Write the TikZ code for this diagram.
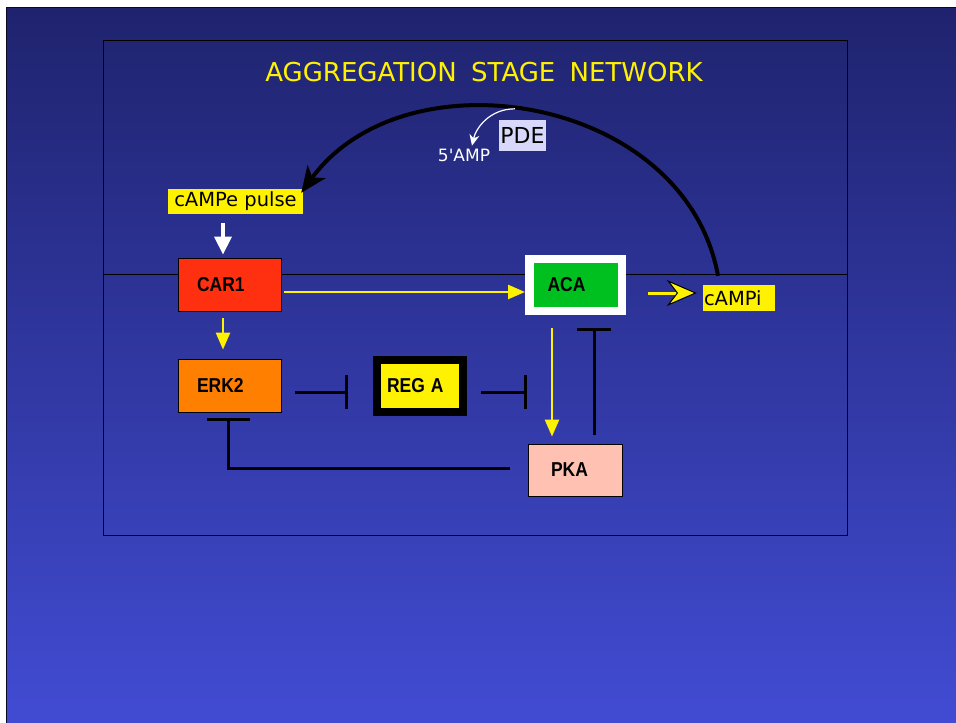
\documentclass[tikz,border=0pt]{standalone}
\usepackage{fontspec}
\setmainfont{DejaVu Sans}
\newfontfamily\lbfont{Liberation Sans}
\usetikzlibrary{arrows.meta}
\definecolor{slidetop}{RGB}{31,35,110}
\definecolor{slidebot}{RGB}{66,76,212}
\definecolor{carred}{RGB}{255,48,16}
\definecolor{erkorange}{RGB}{255,128,0}
\definecolor{acagreen}{RGB}{0,192,32}
\definecolor{pkapink}{RGB}{255,194,178}
\definecolor{pdelav}{RGB}{216,216,250}
\newcommand{\tallname}[1]{\scalebox{1}[1.15]{#1}}

\begin{document}
\begin{tikzpicture}[x=1pt,y=-1pt,>=Stealth,
  gene/.style={draw=black,line width=0.8pt,minimum height=53pt,align=left,
    font=\lbfont\bfseries\fontsize{17.5}{20}\selectfont},
  hilite/.style={fill=yellow,inner sep=1pt,minimum height=25pt,font=\fontsize{19.5}{22}\selectfont},
  act/.style={yellow,line width=2.5pt,-{Triangle[length=17pt,width=14pt]}},
  inh/.style={black,line width=3pt,-{Bar[width=34pt]}}]
\useasboundingbox (0,0) rectangle (956,723);
\fill[white] (0,0) rectangle (956,723);
\shade[top color=slidetop,bottom color=slidebot,draw=black!70!slidetop,line width=1pt] (6,7) rectangle (962,730);
\draw[black,line width=1pt] (103,40) rectangle (847,535);
\draw[black,line width=1pt] (103,274.5) -- (847,274.5);

\node[text=yellow,font=\fontsize{26}{30}\selectfont] (title) at (484,72) {AGGREGATION\hspace{0.55em}STAGE\hspace{0.55em}NETWORK};
\node[fill=pdelav,inner sep=1pt,minimum width=45pt,minimum height=31pt,font=\fontsize{22}{24}\selectfont] (pde) at (522.5,135.5) {PDE};
\node[text=white,font=\fontsize{17}{20}\selectfont] (amp) at (464,155.5) {5\textquotesingle AMP};
\node[hilite,minimum width=135pt] (campe) at (235.5,201.5) {cAMPe pulse};
\node[hilite,minimum height=26pt,text width=70pt,align=left] (campi) at (739,298) {cAMPi};

\node[gene,fill=carred,text width=65pt,inner xsep=19pt] (car1) at (229.5,284.5) {\tallname{CAR1}};
\node[gene,fill=erkorange,text width=65pt,inner xsep=19pt] (erk2) at (229.5,385.5) {\tallname{ERK2}};
\node[gene,draw=white,line width=8.5pt,fill=acagreen,minimum height=52pt,text width=56pt,inner xsep=18.25pt] (aca) at (575.5,285) {\tallname{ACA}};
\node[gene,line width=8pt,fill=yellow,minimum height=52pt,text width=66pt,inner xsep=10.25pt] (rega) at (420,386) {\tallname{REG A}};
\node[gene,fill=pkapink,minimum height=52pt,text width=48pt,inner xsep=23pt] (pka) at (575,470) {\tallname{PKA}};
\coordinate (acapka) at (527,392);

\draw[line width=4pt,-{Stealth[length=26pt,width=22pt,inset=7pt]}] ([xshift=-21pt,yshift=9pt]campi.north) .. controls (685,95) and (405,50) .. ([xshift=-2pt,yshift=-4pt]campe.north east);
\draw[white,line width=1.2pt,-{Stealth[length=11pt,width=10pt]}] ([xshift=-7.5pt,yshift=11pt]pde.north) .. controls +(-25,0) and +(4,-18) .. ([xshift=8pt,yshift=0pt]amp.north);
\draw[white,line width=3.5pt,-{Triangle[length=18pt,width=17pt]}] ([xshift=-12.5pt,yshift=-9pt]campe.south) -- ([xshift=-6.5pt,yshift=3pt]car1.north);
\draw[act] ([xshift=3pt,yshift=-7.5pt]car1.east) -- ([yshift=-7pt]aca.west);
\draw[yellow,line width=3pt,-{Stealth[length=30pt,width=26pt,inset=10pt,fill=yellow,color=black,line width=1pt]}] ([xshift=22pt,yshift=-8pt]aca.east) -- ([xshift=-6pt,yshift=5pt]campi.west);
\draw[act] ([xshift=-6.5pt,yshift=-7pt]car1.south) -- ([xshift=-6.5pt,yshift=9pt]erk2.north);
\draw[act] ([xshift=-23.5pt,yshift=-13pt]aca.south) -- ([xshift=-23pt,yshift=7pt]pka.north);
\draw[inh] ([xshift=14pt,yshift=-6.5pt]erk2.east) -- ([xshift=-24.75pt,yshift=-6pt]rega.west);
\draw[inh] ([xshift=13.75pt,yshift=-6pt]rega.east) -- (acapka);
\draw[inh] ([xshift=19pt,yshift=9pt]pka.north) -- ([xshift=18.5pt,yshift=-13pt]aca.south);
\draw[inh,-{Bar[width=43pt]}] ([xshift=-18pt,yshift=2pt]pka.west) -| ([xshift=-1.5pt,yshift=-6pt]erk2.south);
\end{tikzpicture}
\end{document}
